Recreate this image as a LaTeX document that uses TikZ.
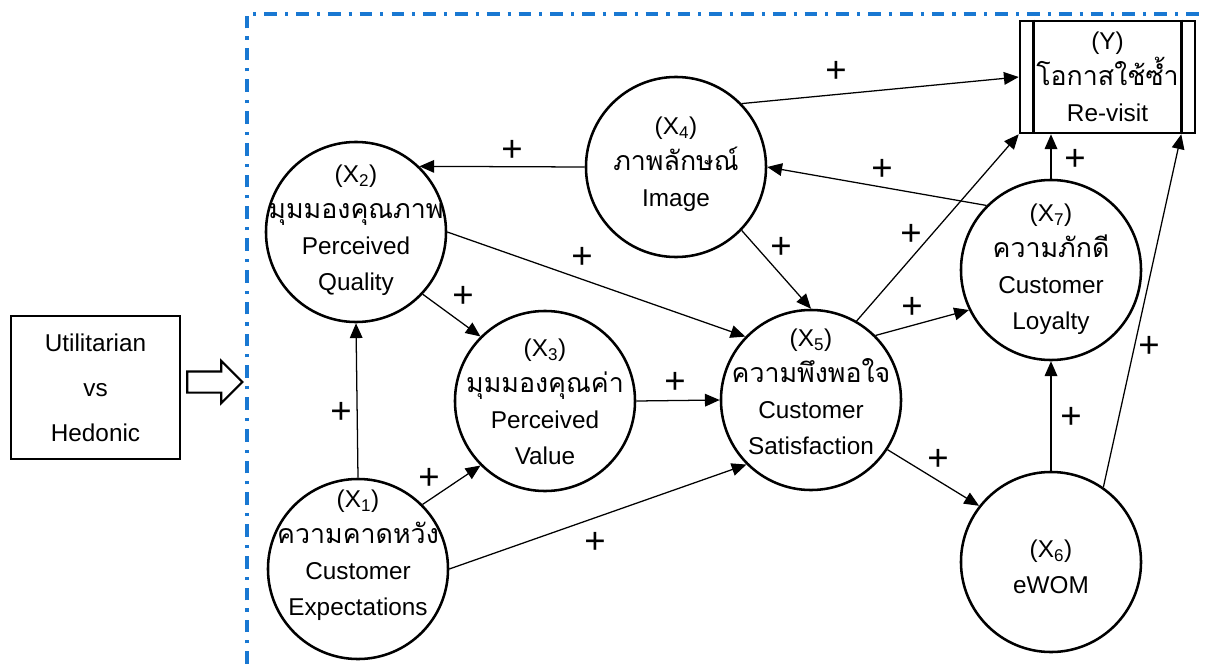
\documentclass[tikz,border=0pt]{standalone}
\usepackage{fontspec}
\setmainfont{Liberation Sans}
\newfontfamily\thai[Script=Thai, Scale=1.1]{Loma}
\usetikzlibrary{arrows.meta, shapes.arrows}
\definecolor{azul}{RGB}{25,120,210}
\tikzset{
  construto/.style={draw, circle, line width=1.8pt, minimum size=4.5cm, inner sep=0pt},
  rotulo/.style={align=center, font=\fontsize{17.3}{25.5}\selectfont, inner sep=0pt},
  caixa/.style={draw, line width=1.8pt, align=center, inner sep=0pt},
  seta/.style={-{Triangle[length=10.5pt, width=9pt]}, line width=0.9pt},
  mais/.style={font=\fontsize{26}{26}\selectfont, inner sep=0pt},
}

\begin{document}
\begin{tikzpicture}[x=0.025cm, y=-0.025cm]
\useasboundingbox (0,0) rectangle (1206,664);

% moldura tracejada
\draw[azul, line width=2.5pt, dash pattern=on 9pt off 5.7pt on 2.2pt off 5.7pt]
  (247,664) -- (247,14) -- (1206,14);

\node[caixa, minimum width=4.225cm, minimum height=3.575cm,
  font=\fontsize{17.3}{32}\selectfont] (tipo) at (95.5,387.5)
{Utilitarian\\vs\\Hedonic};

\node[draw, single arrow, line width=1.5pt, inner xsep=0pt, inner ysep=0.2375cm,
  minimum height=1.375cm, minimum width=1cm,
  single arrow head extend=0.2625cm] (efeito) at (209.5,382) {};

% construtos
\node[construto] (x1) at (358,569) {};
\node[construto] (x2) at (356,232) {};
\node[construto] (x3) at (545,401) {};
\node[construto] (x4) at (676,167) {};
\node[construto] (x5) at (811,400) {};
\node[construto] (x6) at (1051,562) {};
\node[construto] (x7) at (1051,270) {};

\node[rotulo] (t1) at (358,555)
{(X\textsubscript{1})\\{\thai ความคาดหวัง}\\Customer\\Expectations};
\node[rotulo] (t2) at (356,230)
{(X\textsubscript{2})\\{\thai มุมมองคุณภาพ}\\Perceived\\Quality};
\node[rotulo] (t3) at (545,402)
{(X\textsubscript{3})\\{\thai มุมมองคุณค่า}\\Perceived\\Value};
\node[rotulo] (t4) at (676,164)
{(X\textsubscript{4})\\{\thai ภาพลักษณ์}\\Image};
\node[rotulo] (t5) at (811,392)
{(X\textsubscript{5})\\{\thai ความพึงพอใจ}\\Customer\\Satisfaction};
\node[rotulo] (t6) at (1051,567)
{(X\textsubscript{6})\\eWOM};
\node[rotulo] (t7) at (1051,269)
{(X\textsubscript{7})\\{\thai ความภักดี}\\Customer\\Loyalty};

\node[caixa, minimum width=4.375cm, minimum height=2.8cm,
  font=\fontsize{17.3}{25.5}\selectfont] (y) at (1107.5,77)
{(Y)\\{\thai โอกาสใช้ซ้ำ}\\Re-visit};
\draw[line width=1.8pt] ([xshift=0.375cm]y.north west) -- ([xshift=0.375cm]y.south west);
\draw[line width=1.8pt] ([xshift=-0.375cm]y.north east) -- ([xshift=-0.375cm]y.south east);

% relacoes
\draw[seta] (x4.west) -- (x2.46);
\draw[seta] (x4.44) -- (y.west);
\draw[seta] (x7.135) -- (x4.east);
\draw[seta] (x4.316) -- (x5.north);
\draw[seta] (x2.east) -- (x5.136);
\draw[seta] (x2.317) -- (x3.135);
\draw[seta] (x1.north) -- (x2.south);
\draw[seta] (x1.45) -- (x3.225);
\draw[seta] (x1.east) -- (x5.225);
\draw[seta] (x3.east) -- (x5.west);
\draw[seta] (x5.60) -- (y.south west);
\draw[seta] (x5.45) -- (x7.206);
\draw[seta] (x7.north) -- (x7.north |- y.south);
\draw[seta] (x5.327) -- (x6.142);
\draw[seta] (x6.north) -- (x7.south);
\draw[seta] (x6.55) -- ([xshift=-0.375cm]y.south east);

% sinais
\node[mais] (m1) at (512,151) {+};
\node[mais] (m2) at (836,72) {+};
\node[mais] (m3) at (882,170) {+};
\node[mais] (m4) at (781,248) {+};
\node[mais] (m5) at (582,258) {+};
\node[mais] (m6) at (463,297) {+};
\node[mais] (m7) at (341,413) {+};
\node[mais] (m8) at (429,479) {+};
\node[mais] (m9) at (595,543) {+};
\node[mais] (m10) at (675,383) {+};
\node[mais] (m11) at (911,235) {+};
\node[mais] (m12) at (912,308) {+};
\node[mais] (m13) at (1075,160) {+};
\node[mais] (m14) at (938,460) {+};
\node[mais] (m15) at (1071,418) {+};
\node[mais] (m16) at (1149,347) {+};

\end{tikzpicture}
\end{document}
